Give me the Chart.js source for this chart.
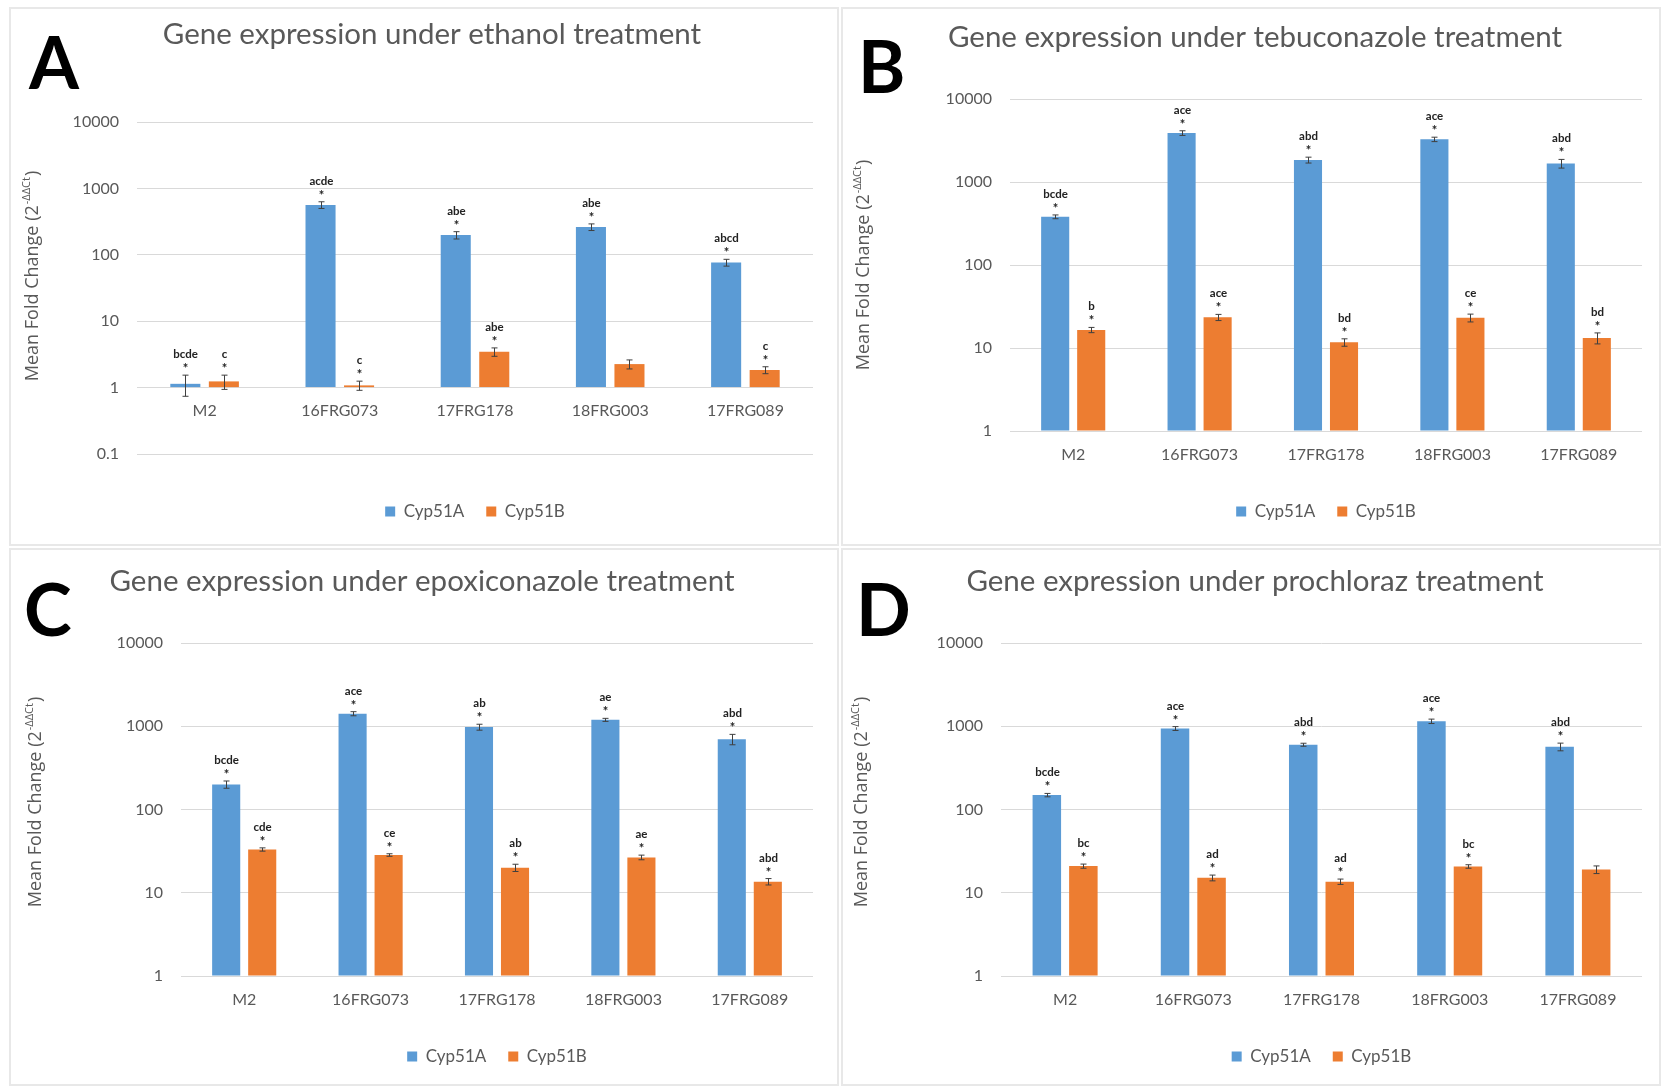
<!DOCTYPE html>
<html>
<head>
<meta charset="utf-8">
<script src="https://cdn.jsdelivr.net/npm/chart.js@4.4.1/dist/chart.umd.min.js"></script>
<style>
  body { margin: 0; background: #fff; width: 1661px; height: 1086px; position: relative; overflow: hidden; }
  .panel { position: absolute; box-sizing: border-box; border: 2px solid #e8e8e8; }
  .panel canvas { display: block; }
</style>
</head>
<body>
<div class="panel" style="left:9px;top:7px;width:830px;height:539px"><canvas id="chartA" width="826" height="535"></canvas></div>
<div class="panel" style="left:841px;top:7px;width:820px;height:539px"><canvas id="chartB" width="816" height="535"></canvas></div>
<div class="panel" style="left:9px;top:548px;width:830px;height:538px"><canvas id="chartC" width="826" height="534"></canvas></div>
<div class="panel" style="left:841px;top:548px;width:820px;height:538px"><canvas id="chartD" width="816" height="534"></canvas></div>

<script>
var strains = ['M2', '16FRG073', '17FRG178', '18FRG003', '17FRG089']
var ticksA = [0.1, 1, 10, 100, 1000, 10000]
var ticksOther = [1, 10, 100, 1000, 10000]

// A - ethanol
var ethanolCyp51A = [1.14, 564, 198, 262, 76.5]
var ethanolCyp51AErr = [0.4, 65, 25, 30, 9]
var ethanolCyp51ALetters = ['bcde', 'acde', 'abe', 'abe', 'abcd']
var ethanolCyp51B = [1.24, 1.08, 3.46, 2.26, 1.84]
var ethanolCyp51BErr = [0.3, 0.17, 0.5, 0.35, 0.22]
var ethanolCyp51BLetters = ['c', 'c', 'abe', '', 'c']

// B - tebuconazole
var tebuCyp51A = [381, 3892, 1842, 3266, 1671]
var tebuCyp51AErr = [20, 250, 150, 200, 200]
var tebuCyp51ALetters = ['bcde', 'ace', 'abd', 'ace', 'abd']
var tebuCyp51B = [16.5, 23.4, 11.7, 23.1, 13.2]
var tebuCyp51BErr = [1.2, 2, 1.2, 2.5, 2]
var tebuCyp51BLetters = ['b', 'ace', 'bd', 'ce', 'bd']

// C - epoxiconazole
var epoxiCyp51A = [200, 1416, 977, 1194, 699]
var epoxiCyp51AErr = [20, 80, 80, 50, 100]
var epoxiCyp51ALetters = ['bcde', 'ace', 'ab', 'ae', 'abd']
var epoxiCyp51B = [33.1, 28.4, 20.0, 26.6, 13.6]
var epoxiCyp51BErr = [1.5, 1, 2, 1.7, 1.2]
var epoxiCyp51BLetters = ['cde', 'ce', 'ab', 'ae', 'abd']

// D - prochloraz
var prochCyp51A = [149, 940, 600, 1148, 567]
var prochCyp51AErr = [7, 50, 25, 70, 60]
var prochCyp51ALetters = ['bcde', 'ace', 'abd', 'ace', 'abd']
var prochCyp51B = [20.9, 15.1, 13.6, 20.7, 19.0]
var prochCyp51BErr = [1.2, 1.2, 1, 1, 2]
var prochCyp51BLetters = ['bc', 'ad', 'ad', 'bc', '']

var gray = '#595959'

var panelExtras = {
  id: 'panelExtras',
  afterDatasetsDraw: function (chart) {
    var ctx = chart.ctx
    var yScale = chart.scales.y
    chart.data.datasets.forEach(function (ds, i) {
      chart.getDatasetMeta(i).data.forEach(function (bar, j) {
        var v = ds.data[j]
        var e = ds.errors[j]
        var x = Math.round(bar.x) + 0.5
        var yHi = yScale.getPixelForValue(v + e)
        var yLo = yScale.getPixelForValue(v - e)
        ctx.save()
        ctx.strokeStyle = '#3f3f3f'
        ctx.lineWidth = 1
        ctx.beginPath()
        ctx.moveTo(x, yHi); ctx.lineTo(x, yLo)
        ctx.moveTo(x - 3, yHi); ctx.lineTo(x + 3, yHi)
        ctx.moveTo(x - 3, yLo); ctx.lineTo(x + 3, yLo)
        ctx.stroke()
        if (ds.letters[j]) {
          ctx.fillStyle = '#222'
          ctx.textAlign = 'center'
          ctx.textBaseline = 'alphabetic'
          ctx.font = 'bold 13px Lato'
          ctx.fillText('*', x, yHi - 2)
          ctx.font = 'bold 11.5px Lato'
          ctx.fillText(ds.letters[j], x, yHi - 17)
        }
        ctx.restore()
      })
    })
  },
  afterDraw: function (chart, args, opts) {
    var ctx = chart.ctx
    ctx.save()
    // panel letter
    ctx.fillStyle = '#000'
    ctx.font = 'bold 72px Lato'
    ctx.textAlign = 'left'
    ctx.textBaseline = 'alphabetic'
    ctx.fillText(opts.letter, opts.letterX, opts.letterY)
    // y axis title with superscript
    ctx.translate(opts.yTitleX, opts.yTitleY)
    ctx.rotate(-Math.PI / 2)
    ctx.fillStyle = gray
    var main = 'Mean Fold Change (2'
    var sup = '-\u0394\u0394Ct'
    var bigFont = '18px "Open Sans"'
    var smallFont = '11px "Open Sans"'
    ctx.font = bigFont
    var w1 = ctx.measureText(main).width
    var w3 = ctx.measureText(')').width
    ctx.font = smallFont
    var w2 = ctx.measureText(sup).width
    var x0 = -(w1 + w2 + w3) / 2
    ctx.textBaseline = 'middle'
    ctx.font = bigFont
    ctx.fillText(main, x0, 0)
    ctx.font = smallFont
    ctx.fillText(sup, x0 + w1 + 1, -6)
    ctx.font = bigFont
    ctx.fillText(')', x0 + w1 + w2 + 2, 0)
    ctx.restore()
  }
}

function makePanel(id, p) {
  var ctx = document.getElementById(id).getContext('2d')
  new Chart(ctx, {
    type: 'bar',
    data: {
      labels: strains,
      datasets: [
        {
          label: 'Cyp51A',
          data: p.a,
          errors: p.aErr,
          letters: p.aLetters,
          backgroundColor: '#5b9bd5',
          base: 1,
          categoryPercentage: 0.57,
          barPercentage: 0.78
        },
        {
          label: 'Cyp51B',
          data: p.b,
          errors: p.bErr,
          letters: p.bLetters,
          backgroundColor: '#ed7d31',
          base: 1,
          categoryPercentage: 0.57,
          barPercentage: 0.78
        }
      ]
    },
    options: {
      responsive: false,
      animation: false,
      devicePixelRatio: 1,
      layout: { padding: { left: p.padLeft, right: p.padRight, top: 0, bottom: p.padBottom } },
      scales: {
        x: {
          type: 'category',
          position: 'bottom',
          ticks: { display: false },
          grid: { display: false },
          border: { display: false },
          afterFit: function (s) { s.height = p.xGap }
        },
        x2: {
          type: 'category',
          axis: 'x',
          position: { y: 1 },
          grid: { display: false, drawTicks: false },
          border: { display: false },
          ticks: { color: gray, font: { family: 'Lato', size: 16 }, padding: 14 }
        },
        y: {
          type: 'logarithmic',
          min: p.ticks[0],
          max: 10000,
          afterBuildTicks: function (s) {
            s.ticks = p.ticks.map(function (v) { return { value: v } })
          },
          ticks: {
            color: gray,
            font: { family: 'Lato', size: 16 },
            padding: 18,
            callback: function (v) { return String(v) }
          },
          grid: { color: '#d9d9d9', drawTicks: false },
          border: { display: false },
          afterFit: function (s) { s.width = p.yWidth }
        }
      },
      plugins: {
        title: {
          display: true,
          text: p.title,
          color: gray,
          font: { family: 'Lato', size: 29.5, weight: 'normal' },
          padding: { top: p.titleTop, bottom: p.titleBottom }
        },
        legend: {
          position: 'bottom',
          fullSize: false,
          labels: {
            boxWidth: 10,
            boxHeight: 10,
            color: gray,
            font: { family: 'Lato', size: 17 },
            padding: 22
          }
        },
        tooltip: { enabled: false },
        panelExtras: p.extras
      }
    },
    plugins: [panelExtras]
  })
}

makePanel('chartA', {
  title: 'Gene expression under ethanol treatment',
  a: ethanolCyp51A, aErr: ethanolCyp51AErr, aLetters: ethanolCyp51ALetters,
  b: ethanolCyp51B, bErr: ethanolCyp51BErr, bLetters: ethanolCyp51BLetters,
  ticks: ticksA,
  padLeft: 40, padRight: 24, padBottom: 14, yWidth: 86, xGap: 27,
  titleTop: 8, titleBottom: 69.6,
  extras: { letter: 'A', letterX: 18, letterY: 80, yTitleX: 22, yTitleY: 268 }
})

makePanel('chartB', {
  title: 'Gene expression under tebuconazole treatment',
  a: tebuCyp51A, aErr: tebuCyp51AErr, aLetters: tebuCyp51ALetters,
  b: tebuCyp51B, bErr: tebuCyp51BErr, bLetters: tebuCyp51BLetters,
  ticks: ticksOther,
  padLeft: 25, padRight: 17, padBottom: 14, yWidth: 142, xGap: 50,
  titleTop: 10.5, titleBottom: 44.1,
  extras: { letter: 'B', letterX: 15, letterY: 84, yTitleX: 21, yTitleY: 257 }
})

makePanel('chartC', {
  title: 'Gene expression under epoxiconazole treatment',
  a: epoxiCyp51A, aErr: epoxiCyp51AErr, aLetters: epoxiCyp51ALetters,
  b: epoxiCyp51B, bErr: epoxiCyp51BErr, bLetters: epoxiCyp51BLetters,
  ticks: ticksOther,
  padLeft: 20, padRight: 24, padBottom: 9, yWidth: 150, xGap: 50,
  titleTop: 13.5, titleBottom: 44.1,
  extras: { letter: 'C', letterX: 13, letterY: 86, yTitleX: 25, yTitleY: 253 }
})

makePanel('chartD', {
  title: 'Gene expression under prochloraz treatment',
  a: prochCyp51A, aErr: prochCyp51AErr, aLetters: prochCyp51ALetters,
  b: prochCyp51B, bErr: prochCyp51BErr, bLetters: prochCyp51BLetters,
  ticks: ticksOther,
  padLeft: 25, padRight: 17, padBottom: 9, yWidth: 133, xGap: 50,
  titleTop: 13.5, titleBottom: 44.1,
  extras: { letter: 'D', letterX: 13, letterY: 86, yTitleX: 19, yTitleY: 253 }
})
</script>
</body>
</html>
